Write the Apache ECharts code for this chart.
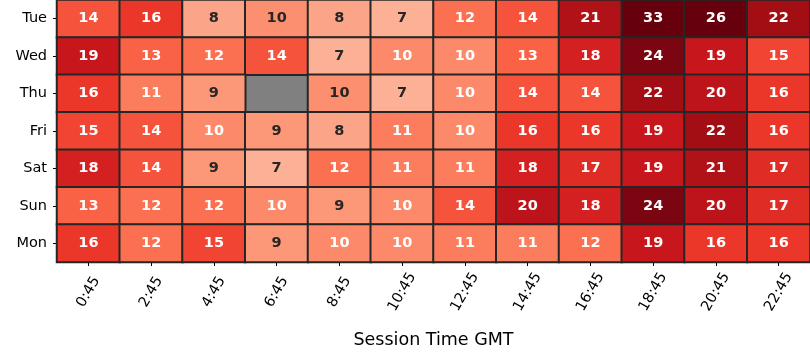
<!DOCTYPE html>
<html>
<head>
<meta charset="utf-8">
<script src="https://cdn.jsdelivr.net/npm/echarts@6/dist/echarts.min.js"></script>
<style>html,body{margin:0;padding:0;background:#fff}#c{width:810px;height:360px}</style>
</head>
<body>
<div id="c"></div>
<script>
const times = ['0:45','2:45','4:45','6:45','8:45','10:45','12:45','14:45','16:45','18:45','20:45','22:45'];
const days = ['Tue','Wed','Thu','Fri','Sat','Sun','Mon'];
const tue = [14,16,8,9.6,8,7,12,14,21,33,26,22];
const wed = [19,13,12,14,7,10,10,13,18,24,19,15];
const thu = [16,11,9,null,9.6,7,10,14,14,22,20,16];
const fri = [15,14,10,9,8,11,10,16,16,19,22,16];
const sat = [18,14,9,7,12,11,11,18,17,19,21,17];
const sun = [13,12,12,10,9,10,14,20,18,24,20,17];
const mon = [16,12,15,9,10,10,11,11,12,19,16,16];
const rows = [tue, wed, thu, fri, sat, sun, mon];

const reds = ['#fff5f0','#fee0d2','#fcbba1','#fc9272','#fb6a4a','#ef3b2c','#cb181d','#a50f15','#67000d'];
const vmin = 0, vmax = 25;

function hex(c){return [parseInt(c.slice(1,3),16),parseInt(c.slice(3,5),16),parseInt(c.slice(5,7),16)];}
function colorAt(v){
  let t = Math.min(1, Math.max(0, (v - vmin) / (vmax - vmin)));
  const p = t * (reds.length - 1);
  const i = Math.min(reds.length - 2, Math.floor(p));
  const f = p - i;
  const a = hex(reds[i]), b = hex(reds[i+1]);
  return a.map((x, k) => x + (b[k] - x) * f);
}
function lum(rgb){
  const l = rgb.map(x => { x /= 255; return x <= 0.03928 ? x / 12.92 : Math.pow((x + 0.055) / 1.055, 2.4); });
  return 0.2126*l[0] + 0.7152*l[1] + 0.0722*l[2];
}

const data = [];
rows.forEach((r, y) => r.forEach((v, x) => {
  if (v === null) { data.push([x, y, '-']); return; }
  const txt = lum(colorAt(v)) > 0.408 ? '#262626' : '#ffffff';
  data.push({ value: [x, y, v], label: { color: txt } });
}));

const chart = echarts.init(document.getElementById('c'), null, { renderer: 'canvas' });
const font = 'DejaVu Sans';
chart.setOption({
  animation: false,
  grid: { left: 57, right: 0, top: 0, bottom: 98, show: true, backgroundColor: '#808080', borderWidth: 0 },
  xAxis: {
    type: 'category', data: times,
    name: 'Session Time GMT', nameLocation: 'middle', nameGap: 69,
    nameTextStyle: { fontFamily: font, fontSize: 17.5, color: '#000' },
    axisLine: { show: false },
    axisTick: { show: true, alignWithLabel: true, length: 4, lineStyle: { color: '#000' } },
    axisLabel: { rotate: 60, align: 'center', verticalAlign: 'middle', fontFamily: font, fontSize: 14.5, color: '#000', margin: 30, interval: 0 },
    splitLine: { show: false }
  },
  yAxis: {
    type: 'category', data: days, inverse: true,
    axisLine: { show: false },
    axisTick: { show: true, alignWithLabel: true, length: 4, lineStyle: { color: '#000' } },
    axisLabel: { fontFamily: font, fontSize: 14.5, color: '#000', margin: 10, interval: 0 },
    splitLine: { show: false }
  },
  visualMap: { show: false, type: 'continuous', min: vmin, max: vmax, dimension: 2, inRange: { color: reds } },
  series: [{
    type: 'heatmap',
    data: data,
    itemStyle: { borderColor: '#262626', borderWidth: 2 },
    label: {
      show: true, fontFamily: font, fontSize: 14.5, fontWeight: 'bold',
      formatter: p => String(Math.round(p.value[2]))
    },
    emphasis: { disabled: true }
  }]
});
</script>
</body>
</html>
